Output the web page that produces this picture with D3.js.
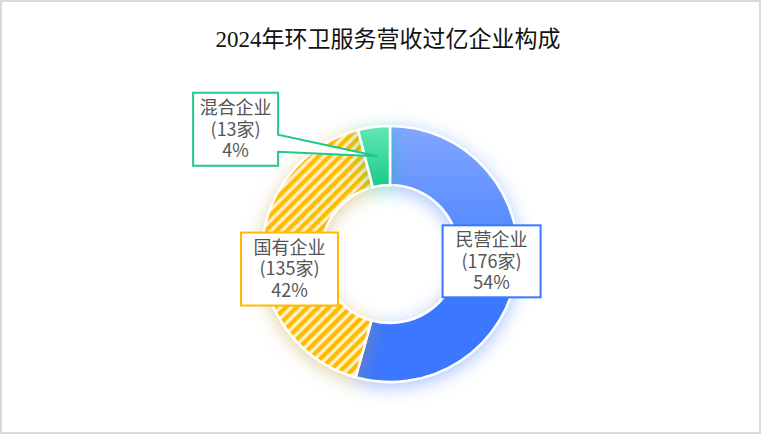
<!DOCTYPE html>
<html><head><meta charset="utf-8">
<script src="https://cdn.jsdelivr.net/npm/d3@7/dist/d3.min.js"></script>
<style>
html,body{margin:0;padding:0;background:#fff;}
svg{display:block;}
</style></head>
<body>
<svg id="chart" width="762" height="447"></svg>
<script>
const title = "2024年环卫服务营收过亿企业构成";
const categories = ["民营企业", "国有企业", "混合企业"];
const counts = [176, 135, 13];
const percents = ["54%", "42%", "4%"];

const W = 762, H = 447;
const svg = d3.select("#chart");
const defs = svg.append("defs");

// frame
svg.append("rect").attr("x",1).attr("y",1).attr("width",W-3).attr("height",432)
  .attr("fill","#fff").attr("stroke","#d9d9d9").attr("stroke-width",2);

svg.append("text").attr("x",388).attr("y",47).attr("text-anchor","middle")
  .attr("font-family","'Liberation Serif','Noto Sans CJK SC',serif")
  .attr("font-size",23).attr("fill","#111").text(title);

// gradients
const gBlue = defs.append("linearGradient").attr("id","gBlue").attr("x1",0).attr("y1",0).attr("x2",0).attr("y2",1);
gBlue.append("stop").attr("offset",0).attr("stop-color","#82a8ff");
gBlue.append("stop").attr("offset",0.65).attr("stop-color","#3b78ff");
gBlue.append("stop").attr("offset",1).attr("stop-color","#3a77ff");
const gGreen = defs.append("linearGradient").attr("id","gGreen").attr("x1",0).attr("y1",0).attr("x2",0).attr("y2",1);
gGreen.append("stop").attr("offset",0).attr("stop-color","#62e8b4");
gGreen.append("stop").attr("offset",1).attr("stop-color","#1cc98a");
const pat = defs.append("pattern").attr("id","stripes").attr("patternUnits","userSpaceOnUse")
  .attr("width",7.6).attr("height",7.6).attr("patternTransform","rotate(45)");
pat.append("rect").attr("width",7.6).attr("height",7.6).attr("fill","#fff0c6");
pat.append("rect").attr("width",4.2).attr("height",7.6).attr("fill","#ffbb00");

const shadowCols = ["#3b78ff","#c09a3a","#1cc98a"];
shadowCols.forEach((c,i)=>{
  const f = defs.append("filter").attr("id","sh"+i).attr("x","-50%").attr("y","-50%").attr("width","200%").attr("height","200%");
  f.append("feDropShadow").attr("dx",0).attr("dy",4).attr("stdDeviation",9)
    .attr("flood-color",c).attr("flood-opacity",0.45);
});

const fills = ["url(#gBlue)","url(#stripes)","url(#gGreen)"];
const borders = ["#3b78ff","#ffb900","#1ec98a"];

const cx = 390, cy = 254, rOut = 128, rIn = 69;
const data = categories.map((c,i)=>({name:c,value:counts[i],pct:percents[i],i}));
const pie = d3.pie().value(d=>d.value).sort(null);
const arcs = pie(data);
const arc = d3.arc().innerRadius(rIn).outerRadius(rOut);
const g = svg.append("g").attr("transform",`translate(${cx},${cy})`);

g.selectAll("path.s").data(arcs).join("path").attr("class","s")
  .attr("d",arc).attr("fill",d=>fills[d.data.i])
  .attr("filter",d=>`url(#sh${d.data.i})`)
  .attr("stroke","#fff").attr("stroke-width",2.5).attr("stroke-linejoin","round");

// labels
const labelArc = d3.arc().innerRadius((rIn+rOut)/2).outerRadius((rIn+rOut)/2);
const boxes = [
  {dx:4, dy:-6, w:98, h:72},
  {dx:-2, dy:16, w:97, h:73},
  {dx:-142, dy:-27, w:85, h:73}
];
const font = "'Noto Sans CJK SC','Noto Sans',sans-serif";
arcs.forEach(a=>{
  const i = a.data.i, b = boxes[i];
  const [px,py] = labelArc.centroid(a);
  const bx = px + b.dx, by = py + b.dy;
  const L = bx - b.w/2, R = bx + b.w/2, T = by - b.h/2, B = by + b.h/2;
  if (i === 2) {
    const p = d3.path();
    p.moveTo(L,T); p.lineTo(R,T); p.lineTo(R,T+42); p.lineTo(px,py); p.lineTo(R,T+59);
    p.lineTo(R,B); p.lineTo(L,B); p.closePath();
    g.append("path").attr("d",p.toString()).attr("fill","#fff").attr("stroke",borders[i]).attr("stroke-width",2).attr("stroke-linejoin","miter");
  } else {
    g.append("rect").attr("x",L).attr("y",T).attr("width",b.w).attr("height",b.h)
      .attr("fill","#fff").attr("stroke",borders[i]).attr("stroke-width",2);
  }
  const lines = [a.data.name, `(${a.data.value}家)`, a.data.pct];
  const t = g.append("text").attr("text-anchor","middle").attr("font-family",font)
    .attr("font-size",18).attr("fill","#555");
  lines.forEach((s,k)=>{
    t.append("tspan").attr("x",bx).attr("y",by + (k-1)*21.5).attr("dy","0.35em").text(s);
  });
});
</script>
</body></html>
